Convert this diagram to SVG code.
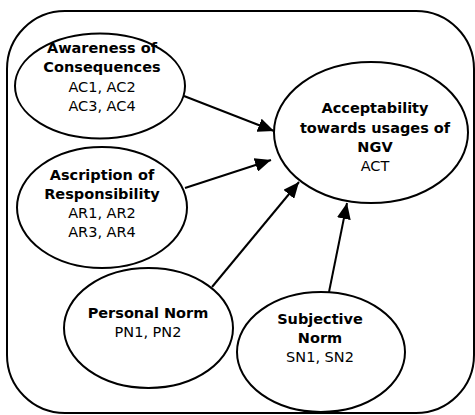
<svg xmlns="http://www.w3.org/2000/svg" width="475" height="415" viewBox="0 0 475 415">
<defs>
<style>
.b{font-family:"DejaVu Sans",Verdana,sans-serif;font-size:14.5px;font-weight:bold;fill:#000;text-anchor:middle}
.r{font-family:"DejaVu Sans",Verdana,sans-serif;font-size:14.5px;fill:#000;text-anchor:middle}
.n{fill:#fff;stroke:#000;stroke-width:2}
.c{stroke:#000;stroke-width:2;fill:none}
</style>
<marker id="ah" markerWidth="16" markerHeight="14" refX="16" refY="7" orient="auto" markerUnits="userSpaceOnUse">
<path d="M0,0 L16,7 L0,14 Z" fill="#000"/>
</marker>
</defs>
<rect x="7" y="11" width="467" height="402" rx="58" ry="58" fill="#fff" stroke="#000" stroke-width="2"/>
<g id="connectors">
<line class="c" x1="184" y1="96" x2="274" y2="131" marker-end="url(#ah)"/>
<line class="c" x1="185" y1="188" x2="271" y2="160" marker-end="url(#ah)"/>
<line class="c" x1="212" y1="287" x2="299" y2="182" marker-end="url(#ah)"/>
<line class="c" x1="329" y1="292" x2="347" y2="203" marker-end="url(#ah)"/>
</g>
<g id="AC">
<ellipse class="n" cx="100" cy="86" rx="85" ry="52.5"/>
<text class="b" x="102" y="53">Awareness of</text>
<text class="b" x="102" y="72">Consequences</text>
<text class="r" x="102" y="92">AC1, AC2</text>
<text class="r" x="102" y="111">AC3, AC4</text>
</g>
<g id="AR">
<ellipse class="n" cx="102" cy="207.5" rx="85" ry="60.5"/>
<text class="b" x="102" y="180">Ascription of</text>
<text class="b" x="102" y="199">Responsibility</text>
<text class="r" x="102" y="218">AR1, AR2</text>
<text class="r" x="102" y="237">AR3, AR4</text>
</g>
<g id="ACT">
<ellipse class="n" cx="371" cy="132.5" rx="97" ry="70.5"/>
<text class="b" x="375" y="113">Acceptability</text>
<text class="b" x="375" y="133">towards usages of</text>
<text class="b" x="375" y="152">NGV</text>
<text class="r" x="375" y="171">ACT</text>
</g>
<g id="PN">
<ellipse class="n" cx="148.5" cy="328" rx="84.5" ry="60"/>
<text class="b" x="148" y="318">Personal Norm</text>
<text class="r" x="148" y="337">PN1, PN2</text>
</g>
<g id="SN">
<ellipse class="n" cx="321" cy="352" rx="84" ry="60"/>
<text class="b" x="320" y="324">Subjective</text>
<text class="b" x="320" y="343">Norm</text>
<text class="r" x="320" y="362">SN1, SN2</text>
</g>
</svg>
